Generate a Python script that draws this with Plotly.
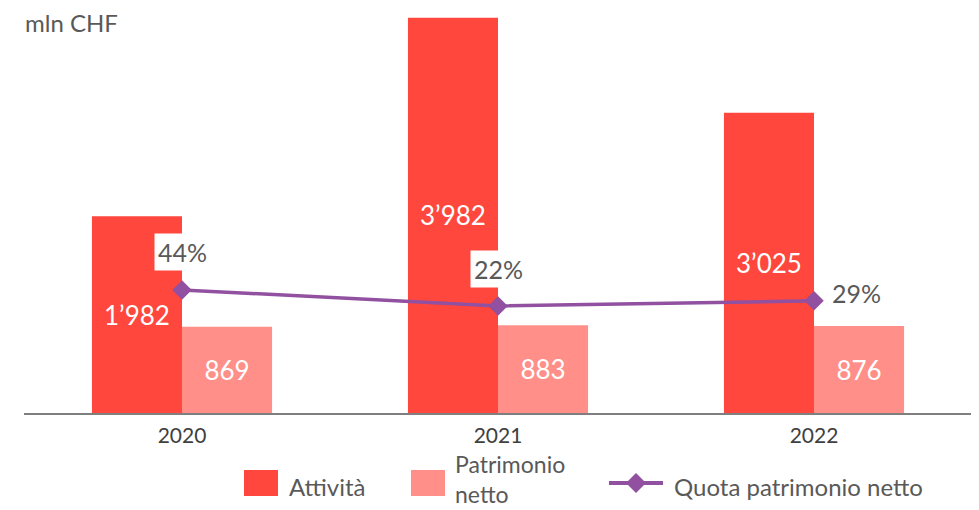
import plotly.graph_objects as go

years = ["2020", "2021", "2022"]
attivita = [1982, 3982, 3025]
patrimonio = [869, 883, 876]
quota = [44, 22, 29]  # percent
series_names = ["Attività", "Patrimonio<br>netto", "Quota patrimonio netto"]


def fmt(v):
    return f"{v:,}".replace(",", "’")


FONT = "Lato"
RED = "#FF473D"
PINK = "#FF8F88"
PURPLE = "#9150A0"
GRAY = "#595959"

# figure geometry (page body adds an 8px offset)
OFF = 8
W, H = 979 - OFF, 510 - OFF
PL, PR, PT, PB = 24, 972, 16, 413  # plot area in screen px


def px(x):
    return (x - PL) / (PR - PL)


def py(y):
    return (PB - y) / (PB - PT)


fig = go.Figure()
fig.add_trace(go.Bar(
    x=years, y=attivita, name=series_names[0], marker=dict(color=RED, line=dict(width=0)),
    text=[fmt(v) for v in attivita], textposition="inside", insidetextanchor="middle",
    textfont=dict(color="white", size=26, family=FONT), showlegend=False,
))
fig.add_trace(go.Bar(
    x=years, y=patrimonio, name=series_names[1], marker=dict(color=PINK, line=dict(width=0)),
    text=[fmt(v) for v in patrimonio], textposition="inside", insidetextanchor="middle",
    textfont=dict(color="white", size=26, family=FONT), showlegend=False,
))
fig.add_trace(go.Scatter(
    x=years, y=quota, name=series_names[2], yaxis="y2", mode="lines+markers",
    line=dict(color=PURPLE, width=3.5), marker=dict(symbol="diamond", size=15, color=PURPLE),
    showlegend=False,
))

# percent labels
shifts = [(0, 38), (0, 37), (42, 8)]
for i, (q, (dx, dy)) in enumerate(zip(quota, shifts)):
    fig.add_annotation(x=i, y=q, xref="x", yref="y2", text=f"{q}%", showarrow=False,
                       xshift=dx, yshift=dy, bgcolor="white", borderpad=3,
                       font=dict(size=25, color=GRAY, family=FONT))

# unit label
fig.add_annotation(x=px(23), y=py(22), xref="paper", yref="paper", xanchor="left",
                   yanchor="middle", text="mln CHF", showarrow=False,
                   font=dict(size=24, color=GRAY, family=FONT))

# legend (drawn manually to match swatch sizes / alignment)
LY = 483
shapes = [
    dict(type="rect", xref="paper", yref="paper", x0=px(244), x1=px(278),
         y0=py(496), y1=py(470), fillcolor=RED, line=dict(width=0)),
    dict(type="rect", xref="paper", yref="paper", x0=px(411), x1=px(445),
         y0=py(496), y1=py(470), fillcolor=PINK, line=dict(width=0)),
    dict(type="line", xref="paper", yref="paper", x0=px(609), x1=px(663),
         y0=py(LY), y1=py(LY), line=dict(color=PURPLE, width=4)),
    dict(type="path", xref="paper", yref="paper",
         path=f"M{px(626)},{py(LY)} L{px(636)},{py(LY - 10)} L{px(646)},{py(LY)} "
              f"L{px(636)},{py(LY + 10)} Z",
         fillcolor=PURPLE, line=dict(width=0)),
]
legend_text = [(288, 486, series_names[0], 24), (454, 479, series_names[1], 23),
               (673, 486, series_names[2], 24)]
for lx, ly, t, fs in legend_text:
    fig.add_annotation(x=px(lx), y=py(ly), xref="paper", yref="paper", xanchor="left",
                       yanchor="middle", text=t, showarrow=False, align="left", borderpad=0,
                       font=dict(size=fs, color=GRAY, family=FONT))

fig.update_layout(
    width=W, height=H,
    margin=dict(l=PL - OFF, r=W + OFF - PR, t=PT - OFF, b=H + OFF - PB, autoexpand=False),
    paper_bgcolor="white", plot_bgcolor="white",
    barmode="group", bargap=0.43, bargroupgap=0,
    font=dict(family=FONT, color=GRAY),
    shapes=shapes,
    xaxis=dict(type="category", range=[-0.5, 2.5], showline=True, linecolor="#7F7F7F",
               linewidth=2, ticks="", ticklabelstandoff=3,
               tickfont=dict(size=21, color="#404040", family=FONT), showgrid=False),
    yaxis=dict(range=[0, 4000], visible=False, showgrid=False),
    yaxis2=dict(range=[-125, 420], overlaying="y", visible=False, showgrid=False),
    showlegend=False,
)

fig.write_html("out.html")
